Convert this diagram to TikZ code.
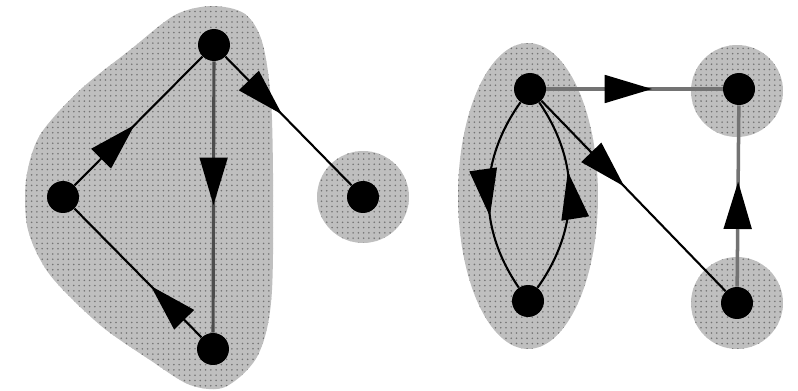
\documentclass[tikz,border=0pt]{standalone}
\usepackage{tikz}
\usetikzlibrary{arrows.meta, decorations.markings, patterns}

\tikzset{
  vertex/.style={circle, fill=black, inner sep=0pt, minimum size=0.64cm},
  scc/.style={fill=black!25,
    postaction={pattern=crosshatch dots, pattern color=white!75!black},
    postaction={pattern=dots, pattern color=black!55}},
  link/.style={black, line width=1.2pt},
  greylink/.style={black!55, line width=2pt},
  arr/.style={postaction={decorate, decoration={markings,
      mark=at position #1 with {\arrow[black]{Triangle[length=0.95cm,width=0.55cm]}}}}},
  arr/.default=0.5
}

\begin{document}
\begin{tikzpicture}[x=0.02cm, y=-0.02cm]
\useasboundingbox (0,0) rectangle (798,391);

% components
\path[scc] plot[smooth cycle] coordinates {(212,6) (245,14) (263,45) (272,120) (272,290) (258,355) (225,387) (190,385) (150,360) (100,325) (50,275) (28,230) (26,180) (40,135) (80,90) (130,50) (175,15)};
\path[scc] (363,197) circle (0.92cm);
\path[scc] (528,196) ellipse [x radius=1.4cm, y radius=3.06cm];
\path[scc] (737,91) circle (0.92cm);
\path[scc] (737,303) circle (0.92cm);

% left graph
\node[vertex] (top) at (214,45) {};
\node[vertex] (lft) at (63,197) {};
\node[vertex] (bot) at (213,349) {};
\node[vertex] (rgt) at (363,197) {};

\draw[black!70, line width=1.8pt, arr=0.53] (top) -- (bot);
\draw[link, arr=0.47] (lft) -- (top);
\draw[link, arr=0.4] (bot) -- (lft);
\draw[link, arr=0.45] (top) -- (rgt);

% right graph
\node[vertex] (a) at (530,89) {};
\node[vertex] (b) at (739,89) {};
\node[vertex] (c) at (528,301) {};
\node[vertex] (d) at (737,303) {};

\draw[greylink, arr=0.6] (a) -- (b);
\draw[greylink, arr=0.58] (d) -- (b);
\draw[link, arr=0.45] (a) -- (d);
\draw[link, arr=0.61] (a) to[bend right=35] (c);
\draw[link, arr=0.62] (c) to[bend right=35] (a);
\end{tikzpicture}
\end{document}
